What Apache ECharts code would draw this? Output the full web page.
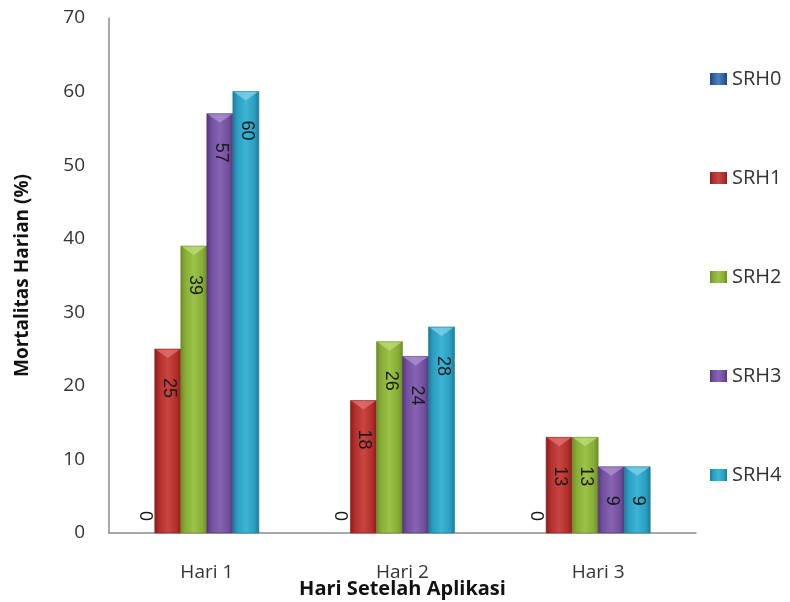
<!DOCTYPE html>
<html>
<head>
<meta charset="utf-8">
<script src="https://cdn.jsdelivr.net/npm/echarts@6/dist/echarts.min.js"></script>
<style>
  html, body { margin: 0; padding: 0; background: #ffffff; }
  #chart { width: 790px; height: 602px; }
</style>
</head>
<body>
<div id="chart"></div>
<script>
// Daily mortality per treatment, by day after application
const categories = ['Hari 1', 'Hari 2', 'Hari 3'];
const seriesNames = ['SRH0', 'SRH1', 'SRH2', 'SRH3', 'SRH4'];
const srh0 = [0, 0, 0];
const srh1 = [25, 18, 13];
const srh2 = [39, 26, 13];
const srh3 = [57, 24, 9];
const srh4 = [60, 28, 9];
const yTicks = [0, 10, 20, 30, 40, 50, 60, 70];

const seriesValues = [srh0, srh1, srh2, srh3, srh4];

// shading per series: edge, body, highlight, top bevel
const palettes = [
  { edge: '#1f4677', body: '#2f5f9e', light: '#4f7fc0', bevel: '#7aa2d8' },
  { edge: '#8a1c1c', body: '#b12f2d', light: '#c94541', bevel: '#e07470' },
  { edge: '#6b8c24', body: '#88ad37', light: '#9cc24a', bevel: '#c0dc7c' },
  { edge: '#55357a', body: '#7250a0', light: '#8664b2', bevel: '#ad93cf' },
  { edge: '#1b7a96', body: '#2b9fc2', light: '#3cb4d4', bevel: '#82d3e8' }
];

function bodyGradient(p) {
  return new echarts.graphic.LinearGradient(0, 0, 1, 0, [
    { offset: 0, color: p.edge },
    { offset: 0.18, color: p.body },
    { offset: 0.5, color: p.light },
    { offset: 0.82, color: p.body },
    { offset: 1, color: p.edge }
  ]);
}

const SLOTS = 6;          // clustered slots per category
const SLOT_RATIO = 0.133; // bar width as a share of the category band
const LABEL_FONT = '18px "Liberation Sans", sans-serif';

function makeRenderer(slot) {
  const p = palettes[slot];
  return function (params, api) {
    const ci = api.value(0);
    const v = api.value(1);
    const base = api.coord([ci, 0]);
    const top = api.coord([ci, v]);
    const catW = api.size([1, 0])[0];
    const w = catW * SLOT_RATIO;
    const x = base[0] - (SLOTS / 2) * w + slot * w;
    const h = base[1] - top[1];
    const cx = x + w / 2;
    const children = [];
    if (h > 0) {
      children.push({
        type: 'rect',
        shape: { x: x, y: top[1], width: w, height: h },
        style: { fill: bodyGradient(p), stroke: p.edge, lineWidth: 0.6 }
      });
      const bev = Math.min(9, h * 0.4);
      children.push({
        type: 'polygon',
        shape: { points: [[x + 1, top[1] + 0.5], [x + w - 1, top[1] + 0.5], [cx, top[1] + bev]] },
        style: { fill: p.bevel, opacity: 0.75 }
      });
      children.push({
        type: 'text',
        x: cx + 1,
        y: top[1] + 29,
        rotation: -Math.PI / 2,
        style: {
          text: String(v),
          fill: '#1a1a1a',
          font: LABEL_FONT,
          align: 'left',
          verticalAlign: 'middle'
        }
      });
    } else {
      children.push({
        type: 'text',
        x: cx + 3,
        y: base[1] - 12,
        rotation: -Math.PI / 2,
        style: {
          text: String(v),
          fill: '#1a1a1a',
          font: LABEL_FONT,
          align: 'right',
          verticalAlign: 'middle'
        }
      });
    }
    return { type: 'group', children: children };
  };
}

const series = seriesNames.map(function (name, k) {
  return {
    name: name,
    type: 'custom',
    renderItem: makeRenderer(k),
    encode: { x: 0, y: 1 },
    itemStyle: { color: bodyGradient(palettes[k]) },
    data: seriesValues[k].map(function (val, i) { return [i, val]; }),
    silent: true,
    z: 2
  };
});

const chart = echarts.init(document.getElementById('chart'), null, { renderer: 'canvas' });
chart.setOption({
  animation: false,
  backgroundColor: '#ffffff',
  grid: { left: 109, top: 18, width: 587, height: 515, containLabel: false, outerBoundsMode: 'none' },
  legend: {
    orient: 'vertical',
    left: 705,
    top: 64,
    itemGap: 79,
    itemWidth: 17,
    itemHeight: 12,
    icon: 'rect',
    selectedMode: false,
    data: seriesNames,
    textStyle: { fontFamily: 'Open Sans', fontSize: 20, color: '#333333', lineHeight: 20, padding: [0, 0, 0, 0] }
  },
  xAxis: {
    type: 'category',
    data: categories,
    axisLine: { lineStyle: { color: '#8c8c8c', width: 1.5 } },
    axisTick: { show: false },
    axisLabel: { fontFamily: 'Open Sans', fontSize: 19, color: '#333333', margin: 30 },
    name: 'Hari Setelah Aplikasi',
    nameLocation: 'middle',
    nameGap: 46,
    nameMoveOverlap: false,
    nameTextStyle: { fontFamily: 'Open Sans', fontWeight: 'bold', fontSize: 20, color: '#111111' }
  },
  yAxis: {
    type: 'value',
    min: yTicks[0],
    max: yTicks[yTicks.length - 1],
    interval: yTicks[1] - yTicks[0],
    axisLine: { show: true, lineStyle: { color: '#8c8c8c', width: 1.5 } },
    axisTick: { show: false },
    splitLine: { show: false },
    axisLabel: { fontFamily: 'Open Sans', fontSize: 19, color: '#333333', margin: 24 },
    name: 'Mortalitas Harian (%)',
    nameLocation: 'middle',
    nameGap: 77,
    nameRotate: 90,
    nameMoveOverlap: false,
    nameTextStyle: { fontFamily: 'Open Sans', fontWeight: 'bold', fontSize: 19, color: '#111111' }
  },
  series: series
});
</script>
</body>
</html>
